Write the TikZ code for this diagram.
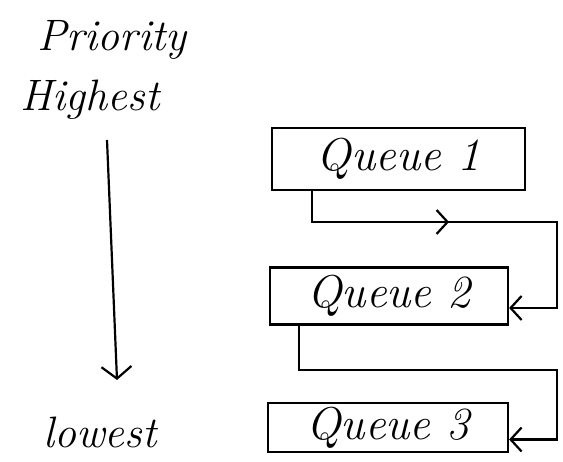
\documentclass[tikz,border=0pt]{standalone}
\usetikzlibrary{arrows.meta,decorations.markings}
\begin{document}
\begin{tikzpicture}[x=1pt,y=-1pt,
  hand/.style={font=\fontsize{44}{48}\selectfont\itshape},
  qbox/.style={draw,line width=2.2pt,inner sep=0pt,font=\fontsize{46}{50}\selectfont\itshape},
  flow/.style={line width=2.2pt,-{Straight Barb[length=11pt,width=24pt,line width=2.2pt]}},
  midarrow/.style={postaction={decorate},decoration={markings,
    mark=at position #1 with {\arrow{Straight Barb[length=11pt,width=24pt,line width=2.2pt]}}}}]
\useasboundingbox (0,0) rectangle (563,462);

% priority scale
\node[hand] (prio) at (112,40) {Priority};
\node[hand] (hi) at (90,100) {Highest};
\node[hand] (lo) at (100,432) {lowest};
\coordinate (top) at (107,140);
\coordinate (bot) at (117,380);
\draw[line width=2.2pt,-{Straight Barb[length=12pt,width=30pt,line width=2.2pt]}] (top) -- (bot);

% queues
\node[qbox,minimum width=253pt,minimum height=62pt] (q1) at (398.5,159) {Queue 1};
\node[qbox,minimum width=238pt,minimum height=57pt] (q2) at (389,296) {Queue 2};
\node[qbox,minimum width=240pt,minimum height=49pt] (q3) at (388,427.5) {Queue 3};

% demotion paths
\coordinate (k1) at (557,222);
\coordinate (k2) at (557,370);
\draw[flow,midarrow=0.41] ([xshift=41pt]q1.south west) |- (k1) |- ([yshift=-12pt]q2.east);
\draw[flow] ([xshift=30pt]q2.south west) |- (k2) |- ([yshift=-12pt]q3.east);
\end{tikzpicture}
\end{document}
